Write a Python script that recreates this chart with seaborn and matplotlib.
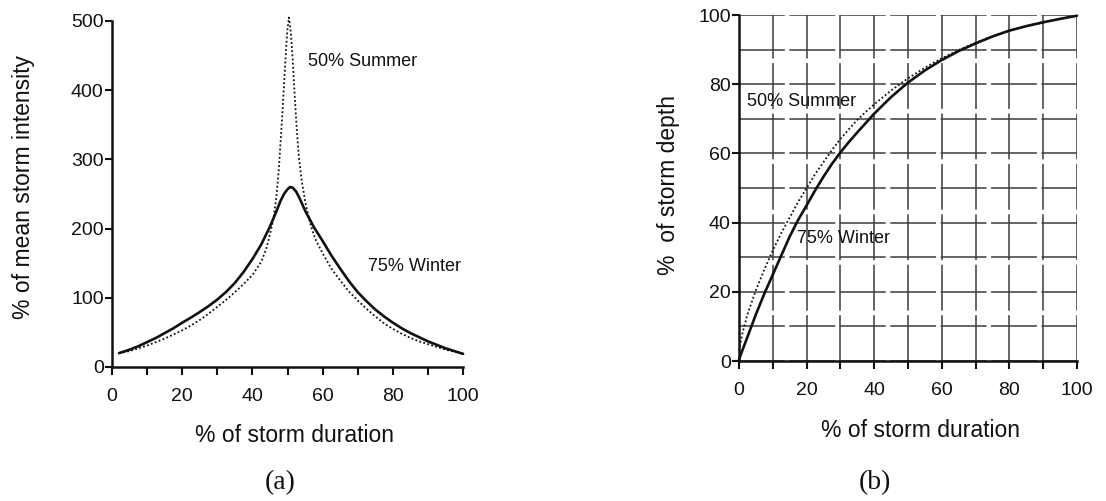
import matplotlib
matplotlib.use("Agg")
import matplotlib.pyplot as plt
from matplotlib.ticker import MultipleLocator
import seaborn as sns

# ---- (a) storm intensity profiles ----
winter_int_x = [2, 5, 7.5, 10, 12.5, 15, 17.5, 20, 22.5, 25, 27.5, 30, 32.5, 35, 37.5, 40, 42.5,
                45, 46.5, 48, 49, 50, 50.7, 51.5, 52.5, 53.5, 55, 57.5, 60, 62.5, 65, 67.5, 70,
                72.5, 75, 77.5, 80, 82.5, 85, 87.5, 90, 92.5, 95, 97.5, 100]
winter_int_y = [20, 25, 30, 36, 42, 49, 56, 64, 71.5, 79.5, 88, 97.5, 108.5, 121.5, 137.5, 156,
                177, 203, 221, 240, 250, 257, 260, 259, 253, 243, 226, 202, 182, 161, 142, 124,
                108, 95, 83, 73, 64, 56, 49, 43, 37, 32, 27, 23, 19]

summer_int_x = [2, 5, 7.5, 10, 12.5, 15, 17.5, 20, 22.5, 25, 27.5, 30, 32.5, 35, 37.5, 40, 42.5,
                44, 45, 46, 46.8, 47.5, 48.2, 48.8, 49.4, 49.9, 50.4, 50.9, 51.4, 52.0, 52.6,
                53.2, 54, 55, 56, 57, 58, 60, 62.5, 65, 67.5, 70, 72.5, 75, 77.5, 80, 82.5, 85,
                87.5, 90, 92.5, 95, 97.5, 100]
summer_int_y = [20, 23, 27, 31, 36, 41, 47, 53, 60, 68, 77, 87, 97, 108, 120, 133, 152,
                172, 192, 215, 245, 285, 340, 390, 445, 485, 505, 485, 450, 395, 345,
                305, 270, 240, 216, 198, 184, 164, 142, 125, 109, 96, 84, 73, 63, 55, 48, 42,
                37, 33, 29, 25, 22, 19]

# ---- (b) cumulative storm depth ----
winter_dep_x = [0, 2.5, 5, 7.5, 10, 12.5, 15, 17.5, 20, 22.5, 25, 27.5, 30, 32.5, 35, 37.5, 40,
                45, 50, 55, 60, 65, 70, 75, 80, 85, 90, 95, 100]
winter_dep_y = [0.5, 7, 13.5, 19.5, 25, 30.5, 36, 40.8, 45, 49.3, 53.3, 57, 60.3, 63.3, 66.1,
                68.8, 71.5, 76.3, 80.5, 84.0, 87.0, 89.6, 91.8, 93.8, 95.5, 96.8, 97.9, 98.9, 99.8]

summer_dep_x = [0, 1, 2.5, 5, 7.5, 10, 12.5, 15, 17.5, 20, 22.5, 25, 27.5, 30, 32.5, 35, 37.5,
                40, 45, 50, 55, 60, 65, 70, 75, 80, 85, 90, 95, 100]
summer_dep_y = [3, 8, 13.5, 20.5, 26.5, 32, 37, 41.5, 46, 50, 54, 57.5, 61, 64.2, 67, 69.7, 72,
                74.2, 78.2, 81.7, 84.8, 87.5, 89.9, 92, 93.9, 95.5, 96.8, 97.9, 98.9, 99.8]

summer_label = "50% Summer"
winter_label = "75% Winter"
duration_label = "% of storm duration"

sns.set_theme(style="white")
plt.rcParams["font.family"] = ["Liberation Sans", "DejaVu Sans"]

ink = "#111111"
fig = plt.figure(figsize=(11.06, 5.01), dpi=100)
ax1 = fig.add_axes([0.1013, 0.2675, 0.3174, 0.6906])
ax2 = fig.add_axes([0.6682, 0.2794, 0.3056, 0.6906])

dotted = (0, (1.0, 1.3))

# panel (a)
sns.lineplot(x=winter_int_x, y=winter_int_y, ax=ax1, color=ink, lw=1.9, clip_on=False)
sns.lineplot(x=summer_int_x, y=summer_int_y, ax=ax1, color=ink, lw=1.3, linestyle=dotted,
             clip_on=False)
ax1.set_xlim(0, 100)
ax1.set_ylim(0, 500)
ax1.xaxis.set_major_locator(MultipleLocator(20))
ax1.xaxis.set_minor_locator(MultipleLocator(10))
ax1.yaxis.set_major_locator(MultipleLocator(100))
ax1.text(55.8, 441, summer_label, fontsize=13, color=ink, va="center", ha="left")
ax1.text(72.9, 145, winter_label, fontsize=13, color=ink, va="center", ha="left")
ax1.set_xlabel(duration_label, fontsize=16.5, color=ink)
ax1.set_ylabel("% of mean storm intensity", fontsize=16.5, color=ink)
ax1.xaxis.set_label_coords(0.521, -0.197)
ax1.yaxis.set_label_coords(-0.2536, 0.52)
sns.despine(ax=ax1)

# panel (b)
ax2.grid(True, which="both", color="#3c3c3c", lw=1.1, ls=(0, (30, 3)))
sns.lineplot(x=winter_dep_x, y=winter_dep_y, ax=ax2, color=ink, lw=1.9, clip_on=False)
sns.lineplot(x=summer_dep_x, y=summer_dep_y, ax=ax2, color=ink, lw=1.3, linestyle=dotted,
             clip_on=False)
ax2.set_xlim(0, 100)
ax2.set_ylim(0, 100)
ax2.xaxis.set_major_locator(MultipleLocator(20))
ax2.xaxis.set_minor_locator(MultipleLocator(10))
ax2.yaxis.set_major_locator(MultipleLocator(20))
ax2.yaxis.set_minor_locator(MultipleLocator(10))
ax2.text(2.4, 75, summer_label, fontsize=13, color=ink, va="center", ha="left")
ax2.text(17.1, 35.5, winter_label, fontsize=13, color=ink, va="center", ha="left")
ax2.set_xlabel(duration_label, fontsize=16.5, color=ink)
ax2.set_ylabel("%  of storm depth", fontsize=16.5, color=ink)
ax2.xaxis.set_label_coords(0.5355, -0.1994)
ax2.yaxis.set_label_coords(-0.21, 0.509)
sns.despine(ax=ax2)

for ax in (ax1, ax2):
    ax.set_axisbelow(True)
    ax.xaxis.label.set_va("center")
    ax.yaxis.label.set_va("center")
    for side in ("left", "bottom"):
        ax.spines[side].set_color(ink)
        ax.spines[side].set_linewidth(1.8)
    ax.tick_params(axis="x", which="both", direction="out", length=6, width=1.5,
                   color=ink, labelsize=14, labelcolor=ink, pad=9, bottom=True)
    ax.tick_params(axis="y", which="major", direction="out", length=5, width=1.5,
                   color=ink, labelsize=14, labelcolor=ink, pad=1, left=True)
    ax.tick_params(axis="y", which="minor", length=0)

fig.text(280 / 1106, 1 - 483 / 501, "(a)", fontsize=20, family="Liberation Serif",
         color=ink, ha="center", va="center")
fig.text(875 / 1106, 1 - 483 / 501, "(b)", fontsize=20, family="Liberation Serif",
         color=ink, ha="center", va="center")

fig.savefig("out.png", dpi=100)
